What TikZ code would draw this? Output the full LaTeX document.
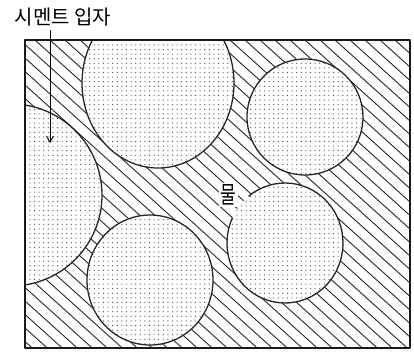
\documentclass[tikz,border=0pt]{standalone}
\usepackage{fontspec}
\newfontfamily\kr{Noto Sans CJK KR}
\usetikzlibrary{patterns,arrows.meta}
\pgfdeclarepatternformonly{sparsedots}{\pgfqpoint{-1pt}{-1pt}}{\pgfqpoint{6pt}{6pt}}{\pgfqpoint{4.6pt}{4.6pt}}{%
  \pgfpathcircle{\pgfqpoint{2.3pt}{2.3pt}}{0.6pt}\pgfusepath{fill}}
\begin{document}
\begin{tikzpicture}[x=1pt,y=-1pt,line join=round,
  hatch/.style={line width=0.9pt,black!85},
  grainbg/.style={fill=white},
  grainfill/.style={pattern=sparsedots,pattern color=black!75},
  outline/.style={line width=1.3pt,black!85},
  frame/.style={line width=1.6pt,black!90},
  lbl/.style={inner sep=0pt}]
\useasboundingbox (0,0) rectangle (414,360);
\coordinate (tl) at (25,40);
\coordinate (br) at (410,348);
\coordinate (gL) at (11,195);
\coordinate (gT) at (158,83);
\coordinate (gTR) at (305,117);
\coordinate (gBR) at (285,243);
\coordinate (gB) at (150,280);
\begin{scope}
  \clip (tl) rectangle (br);
  \foreach \s in {-340,-325,...,420} \draw[hatch] (\s,40) -- ++(400,360);
  \foreach \st in {grainbg,grainfill}{
    \path[\st] (gL) circle[radius=91];
    \path[\st] (gT) ellipse[x radius=76,y radius=85];
    \path[\st] (gTR) circle[radius=58];
    \path[\st] (gBR) ellipse[x radius=58,y radius=60];
    \path[\st] (gB) ellipse[x radius=63,y radius=65];
  }
  \draw[outline] (gL) circle[radius=91];
  \draw[outline] (gT) ellipse[x radius=76,y radius=85];
  \draw[outline] (gTR) circle[radius=58];
  \draw[outline] ([shift={(231:58 and 60)}]gBR) arc[start angle=231,end angle=565,x radius=58,y radius=60];
  \draw[outline] (gB) ellipse[x radius=63,y radius=65];
\end{scope}
\draw[frame] (tl) rectangle (br);
\node[lbl,font=\kr\fontsize{20}{24}\selectfont] (cement) at (63,17) {시멘트 입자};
\coordinate (tip) at (50,143);
\draw[line width=0.9pt,-{Straight Barb[length=6pt,width=7pt]}] ([yshift=-4pt]cement.south -| tip) -- (tip);
\node[lbl,fill=white,inner sep=1.5pt,font=\kr\fontsize{17}{20}\selectfont] (water) at (228.5,195) {\scalebox{1}[1.4]{물}};
\end{tikzpicture}
\end{document}
